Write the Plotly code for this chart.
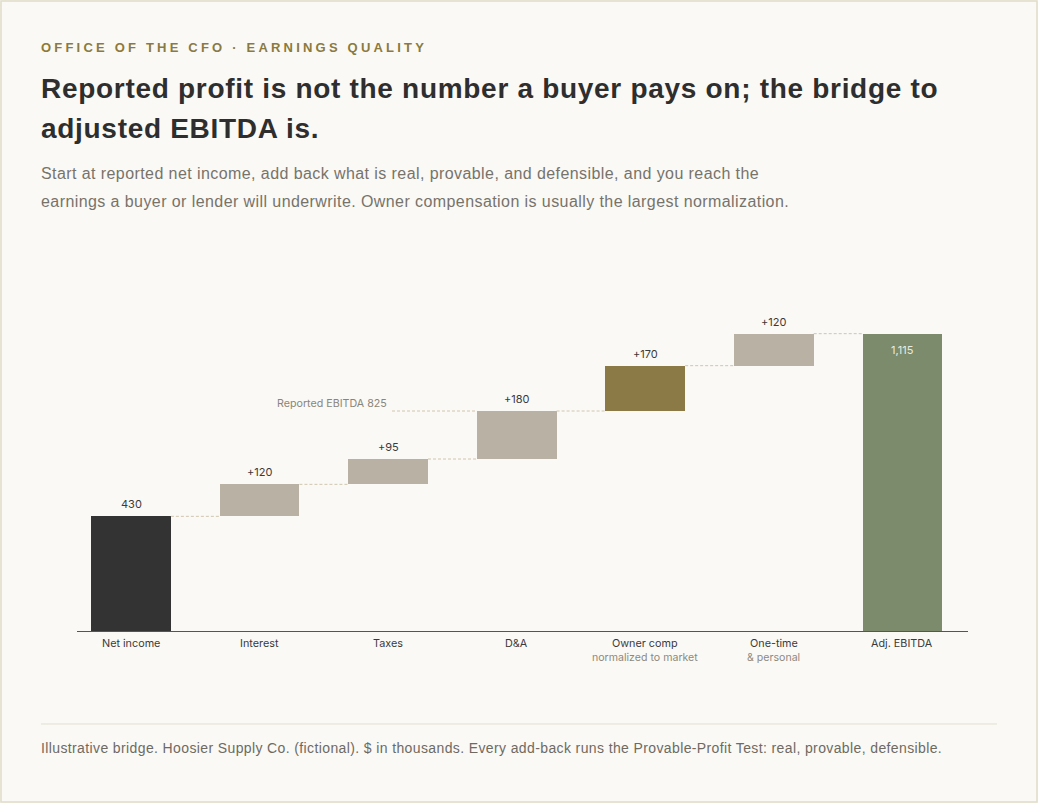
import plotly.graph_objects as go

categories = ["Net income", "Interest", "Taxes", "D&A", "Owner comp", "One-time", "Adj. EBITDA"]
sublabels = ["", "", "", "", "normalized to market", "& personal", ""]
values = [430, 120, 95, 180, 170, 120, 1115]
kinds = ["start", "add", "add", "add", "add", "add", "total"]
value_labels = ["430", "+120", "+95", "+180", "+170", "+120", "1,115"]
reported_ebitda_label = "Reported EBITDA 825"
reported_ebitda_index = 3  # reported EBITDA is the top of the D&A step

EYEBROW = "OFFICE OF THE CFO · EARNINGS QUALITY"
TITLE_1 = "Reported profit is not the number a buyer pays on; the bridge to"
TITLE_2 = "adjusted EBITDA is."
SUB_1 = "Start at reported net income, add back what is real, provable, and defensible, and you reach the"
SUB_2 = "earnings a buyer or lender will underwrite. Owner compensation is usually the largest normalization."
FOOTER = ("Illustrative bridge. Hoosier Supply Co. (fictional). $ in thousands. "
          "Every add-back runs the Provable-Profit Test: real, provable, defensible.")

COL_START = "#333333"
COL_ADD = "#b8b1a4"
COL_KEY = "#8b7a45"
COL_TOTAL = "#7b8b6c"
BG = "#faf9f6"

# compute bases/tops from the data
bases, tops = [], []
run = 0
for v, k in zip(values, kinds):
    if k == "add":
        bases.append(run)
        run += v
    else:
        bases.append(0)
        run = v
    tops.append(run)

colors = []
for i, k in enumerate(kinds):
    if k == "start":
        colors.append(COL_START)
    elif k == "total":
        colors.append(COL_TOTAL)
    elif categories[i] == "Owner comp":
        colors.append(COL_KEY)
    else:
        colors.append(COL_ADD)

W, H = 1038, 803
PL, PR, PT, PB = 77, 968, 311, 631
BW = 0.62


def px(x):
    return (x - PL) / (PR - PL)


def py(y):
    return (PB - y) / (PB - PT)


fig = go.Figure()
xs = list(range(len(categories)))
fig.add_trace(go.Bar(
    x=xs, y=[t - b for t, b in zip(tops, bases)], base=bases,
    marker=dict(color=colors, line=dict(width=0)), width=BW,
    hoverinfo="skip", showlegend=False,
))

shapes = []
annotations = []
CONN = dict(color="#d0c6ae", width=1, dash="3px,2px")
# connectors
for i in range(len(categories) - 1):
    shapes.append(dict(type="line", xref="x", yref="y",
                       x0=i + BW / 2, x1=i + 1 - BW / 2, y0=tops[i], y1=tops[i],
                       line=CONN))
# reported EBITDA reference line
rep = tops[reported_ebitda_index]
shapes.append(dict(type="line", xref="x", yref="y",
                   x0=reported_ebitda_index - 0.97, x1=reported_ebitda_index - BW / 2,
                   y0=rep, y1=rep, line=CONN))
annotations.append(dict(xref="x", yref="y", x=reported_ebitda_index - 0.99, y=rep,
                        text=reported_ebitda_label, showarrow=False, xanchor="right",
                        yanchor="middle", yshift=8,
                        font=dict(family="Inter", size=10.7, color="#8a857a")))

# value labels
for i, (lab, k) in enumerate(zip(value_labels, kinds)):
    if k == "total":
        annotations.append(dict(xref="x", yref="y", x=i, y=tops[i], text=lab,
                                showarrow=False, yanchor="middle", yshift=-16,
                                font=dict(family="Inter", size=11, color="#e8ece2")))
    else:
        annotations.append(dict(xref="x", yref="y", x=i, y=tops[i], text=lab,
                                showarrow=False, yanchor="middle", yshift=12,
                                font=dict(family="Inter", size=11, color="#3a3a3a")))

# category labels
for i, (c, s) in enumerate(zip(categories, sublabels)):
    annotations.append(dict(xref="x", yref="paper", x=i, y=py(643), text=c,
                            showarrow=False, yanchor="middle",
                            font=dict(family="Inter", size=10.8, color="#3a3a3a")))
    if s:
        annotations.append(dict(xref="x", yref="paper", x=i, y=py(657), text=s,
                                showarrow=False, yanchor="middle",
                                font=dict(family="Inter", size=10.6, color="#8e897e")))


def head(text, y, size, color, bold=False):
    annotations.append(dict(xref="paper", yref="paper", x=px(39), y=py(y), xanchor="left",
                            yanchor="middle", align="left", showarrow=False, text=text,
                            font=dict(family="Liberation Sans", size=size, color=color,
                                      weight="bold" if bold else "normal")))


head(EYEBROW, 47, 13, "#8a7a3e", True)
head(TITLE_1, 88, 28, "#2e2e2e", True)
head(TITLE_2, 128, 28, "#2e2e2e", True)
head(SUB_1, 173, 16, "#77736a")
head(SUB_2, 201, 16, "#77736a")
head(FOOTER, 748, 14, "#6e6a62")

# footer rule
shapes.append(dict(type="line", xref="paper", yref="paper", x0=px(41), x1=px(997),
                   y0=py(724), y1=py(724), line=dict(color="#e2dfcf", width=1)))
# card border
shapes.append(dict(type="rect", xref="paper", yref="paper", x0=px(1), x1=px(W - 1),
                   y0=py(1), y1=py(H - 1), line=dict(color="#e0dcc8", width=1.5),
                   fillcolor="rgba(0,0,0,0)", layer="below"))

fig.update_layout(
    width=W, height=H,
    margin=dict(l=PL, r=W - PR, t=PT, b=H - PB, pad=0),
    paper_bgcolor=BG, plot_bgcolor=BG,
    showlegend=False,
    xaxis=dict(range=[-0.42, 6.51], showgrid=False, zeroline=False, showticklabels=False,
               showline=True, linecolor="#555555", linewidth=1, ticks="", fixedrange=True),
    yaxis=dict(range=[0, 1200], showgrid=False, zeroline=False, showticklabels=False,
               showline=False, ticks="", fixedrange=True),
    shapes=shapes, annotations=annotations,
    font=dict(family="Inter"),
    bargap=0,
)

post = """
document.body.style.margin = '0';
var spacing = [['OFFICE OF THE CFO', '3.2px'], ['Reported profit is', '0.7px'],
               ['adjusted EBITDA is.', '0.7px'], ['Start at reported', '0.42px'],
               ['earnings a buyer', '0.42px'], ['Illustrative bridge', '0.38px']];
document.querySelectorAll('text.annotation-text').forEach(function (t) {
  var s = t.textContent || '';
  spacing.forEach(function (p) {
    if (s.indexOf(p[0]) === 0) { t.style.letterSpacing = p[1]; }
  });
});
"""

fig.write_html("out.html", config={"displayModeBar": False}, post_script=post)
